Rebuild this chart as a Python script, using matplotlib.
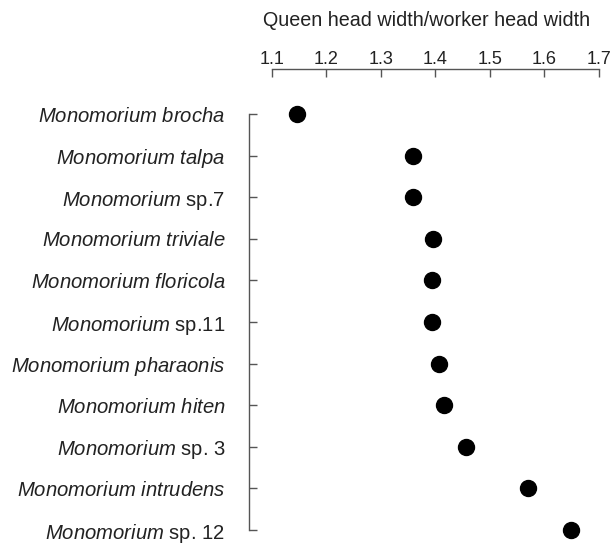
import matplotlib
matplotlib.use("Agg")
import matplotlib.pyplot as plt

plt.rcParams["font.family"] = ["Liberation Sans", "DejaVu Sans"]
plt.rcParams["mathtext.fontset"] = "custom"
plt.rcParams["mathtext.rm"] = "Liberation Sans"
plt.rcParams["mathtext.it"] = "Liberation Sans:italic"

# species (top to bottom) and ratio values
species = [
    r"$\mathit{Monomorium\ brocha}$",
    r"$\mathit{Monomorium\ talpa}$",
    r"$\mathit{Monomorium}$ sp.7",
    r"$\mathit{Monomorium\ triviale}$",
    r"$\mathit{Monomorium\ floricola}$",
    r"$\mathit{Monomorium}$ sp.11",
    r"$\mathit{Monomorium\ pharaonis}$",
    r"$\mathit{Monomorium\ hiten}$",
    r"$\mathit{Monomorium}$ sp. 3",
    r"$\mathit{Monomorium\ intrudens}$",
    r"$\mathit{Monomorium}$ sp. 12",
]
ratio = [1.146, 1.359, 1.359, 1.395, 1.394, 1.394, 1.406, 1.415, 1.456, 1.569, 1.648]
xticks = [1.1, 1.2, 1.3, 1.4, 1.5, 1.6, 1.7]

fig = plt.figure(figsize=(6.13, 5.47), dpi=100)
ax = fig.add_axes([249 / 613, 1 - 540 / 547, (605 - 249) / 613, (540 - 69) / 547])

ypos = list(range(len(species)))
ax.plot(ratio, ypos, "o", color="black", markersize=11.5, linestyle="none")

ax.set_xlim(1.0584, 1.711)
ax.set_ylim(10.24, -1.082)

for s in ["right", "bottom"]:
    ax.spines[s].set_visible(False)
ax.spines["left"].set_bounds(0, 10)
ax.spines["top"].set_bounds(1.1, 1.7)
for s in ["left", "top"]:
    ax.spines[s].set_color("#555555")
    ax.spines[s].set_linewidth(1.0)

ax.xaxis.tick_top()
ax.set_xticks(xticks)
ax.set_xticklabels([f"{t:.1f}" for t in xticks])
ax.tick_params(axis="x", direction="in", length=6, width=1.0, color="#555555",
               labelsize=13, pad=1, labelcolor="#222222")
ax.xaxis.set_label_position("top")
ax.set_xlabel("Queen head width/worker head width", fontsize=14.2, labelpad=18,
              color="#222222")

ax.set_yticks(ypos)
ax.set_yticklabels(species)
ax.tick_params(axis="y", direction="in", length=6, width=1.0, color="#555555",
               labelsize=14.6, pad=17, labelcolor="#222222")

fig.savefig("out.png", dpi=100)
